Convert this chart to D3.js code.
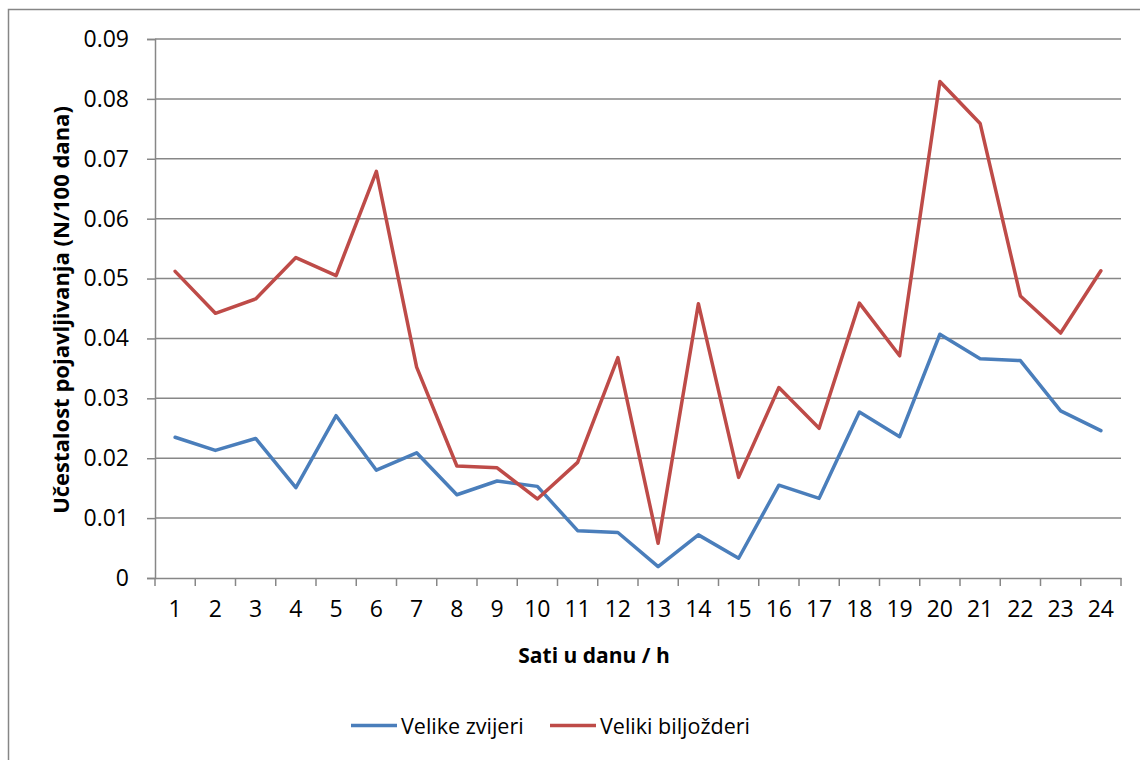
<!DOCTYPE html>
<html>
<head>
<meta charset="utf-8">
<script src="https://cdn.jsdelivr.net/npm/d3@7"></script>
<style>
  body { margin: 0; background: #fff; }
  svg { display: block; }
  text { font-family: "Open Sans", "Liberation Sans", sans-serif; fill: #000; }
</style>
</head>
<body>
<svg id="chart" width="1140" height="760"></svg>
<script>
const hours = ["1","2","3","4","5","6","7","8","9","10","11","12","13","14","15","16","17","18","19","20","21","22","23","24"];
const velikeZvijeri = [0.0235,0.0213,0.0233,0.0151,0.0271,0.0180,0.0209,0.0139,0.0162,0.0153,0.0079,0.0076,0.0019,0.0072,0.0033,0.0155,0.0133,0.0277,0.0236,0.0407,0.0366,0.0363,0.0279,0.0246];
const velikiBiljozderi = [0.0512,0.0442,0.0466,0.0535,0.0505,0.0679,0.0352,0.0187,0.0184,0.0132,0.0193,0.0368,0.0058,0.0458,0.0168,0.0318,0.0250,0.0459,0.0371,0.0829,0.0759,0.0471,0.0409,0.0513];
const yTicks = [0,0.01,0.02,0.03,0.04,0.05,0.06,0.07,0.08,0.09];
const seriesNames = ["Velike zvijeri","Veliki biljožderi"];
const seriesColors = ["#4A7EBB","#BE4B48"];

const svg = d3.select("#chart");
const plotLeft = 155, plotRight = 1121, plotTop = 39, plotBottom = 578;

// outer chart border
svg.append("rect").attr("x", 8.5).attr("y", 9.5).attr("width", 1140).attr("height", 760)
  .attr("fill", "none").attr("stroke", "#868686").attr("stroke-width", 1.5);

const x = d3.scaleBand().domain(hours).range([plotLeft, plotRight]).padding(0);
const y = d3.scaleLinear().domain([0, 0.09]).range([plotBottom, plotTop]);

// gridlines
svg.append("g").selectAll("line").data(yTicks.filter(d => d > 0)).join("line")
  .attr("x1", plotLeft).attr("x2", plotRight)
  .attr("y1", d => y(d)).attr("y2", d => y(d))
  .attr("stroke", "#878787").attr("stroke-width", 1.5);

// y axis
const yAxis = d3.axisLeft(y).tickValues(yTicks).tickSize(8).tickPadding(18)
  .tickFormat(d => d === 0 ? "0" : d3.format(".2f")(d));
const gy = svg.append("g").attr("transform", `translate(${plotLeft},0)`).call(yAxis);
gy.select(".domain").attr("stroke", "#878787").attr("stroke-width", 1.5);
gy.selectAll(".tick line").attr("stroke", "#878787").attr("stroke-width", 1.5);
gy.selectAll(".tick text").style("font-size", "23px").style("font-family", "Open Sans").attr("fill", "#000");

// x axis
const xAxis = d3.axisBottom(x).tickSize(0).tickPadding(23);
const gx = svg.append("g").attr("transform", `translate(0,${plotBottom})`).call(xAxis);
gx.select(".domain").attr("stroke", "#878787").attr("stroke-width", 1.5);
gx.selectAll(".tick text").style("font-size", "23px").style("font-family", "Open Sans").attr("fill", "#000");
// tick marks at category boundaries
const bounds = hours.map(h => x(h)).concat([x(hours[hours.length-1]) + x.bandwidth()]);
svg.append("g").selectAll("line").data(bounds).join("line")
  .attr("x1", d => d).attr("x2", d => d)
  .attr("y1", plotBottom).attr("y2", plotBottom + 8)
  .attr("stroke", "#878787").attr("stroke-width", 1.5);

// lines
const line = d3.line().x((d, i) => x(hours[i]) + x.bandwidth() / 2).y(d => y(d));
[velikeZvijeri, velikiBiljozderi].forEach((s, k) => {
  svg.append("path").datum(s).attr("d", line)
    .attr("fill", "none").attr("stroke", seriesColors[k]).attr("stroke-width", 3.5)
    .attr("stroke-linejoin", "round").attr("stroke-linecap", "round");
});

// axis titles
svg.append("text").attr("x", 594).attr("y", 663).attr("text-anchor", "middle")
  .style("font-size", "21px").style("font-weight", "bold").text("Sati u danu / h");
svg.append("text").attr("transform", "translate(69,310) rotate(-90)").attr("text-anchor", "middle")
  .style("font-size", "22px").style("font-weight", "bold").text("Učestalost pojavljivanja (N/100 dana)");

// legend
const legendX = [351, 550];
seriesNames.forEach((n, k) => {
  svg.append("line").attr("x1", legendX[k]).attr("x2", legendX[k] + 46)
    .attr("y1", 725.5).attr("y2", 725.5).attr("stroke", seriesColors[k]).attr("stroke-width", 3.5);
  svg.append("text").attr("x", legendX[k] + 50).attr("y", 733.5)
    .style("font-size", "21.5px").text(n);
});
</script>
</body>
</html>
